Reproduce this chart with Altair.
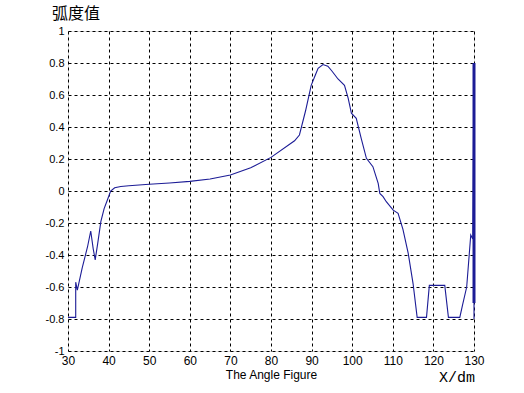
import altair as alt
import pandas as pd

xs = [30, 31.9, 31.9, 32.3, 33.5, 34.8, 35.6, 36.2, 36.7, 37.3, 38.1, 38.9, 39.7, 40.5,
      41.5, 43, 45, 50, 55, 60, 65, 70, 75, 80, 85.8, 87, 88.5, 89.9, 91, 91.6, 92.8,
      94, 95, 96.5, 98.1, 99.0, 99.8, 101.0, 102.2, 103.5, 105.1, 106.4, 106.8, 107.6,
      108.4, 110.1, 111.3, 112.5, 113.8, 115.0, 116.0, 118.3, 119.0, 122.8, 123.7,
      126.5, 127.2, 128.2, 129.2, 129.7, 130, 130]
ys = [-0.79, -0.79, -0.57, -0.62, -0.48, -0.35, -0.25, -0.36, -0.43, -0.33, -0.19, -0.11,
      -0.056, 0.0, 0.02, 0.028, 0.033, 0.042, 0.05, 0.06, 0.075, 0.1, 0.145, 0.21, 0.314,
      0.35, 0.5, 0.66, 0.73, 0.767, 0.79, 0.78, 0.75, 0.70, 0.66, 0.58, 0.486, 0.454,
      0.33, 0.204, 0.152, 0.048, -0.015, -0.035, -0.067, -0.12, -0.14, -0.24, -0.39,
      -0.58, -0.79, -0.79, -0.59, -0.59, -0.79, -0.79, -0.71, -0.6, -0.275, -0.3, 0.8, -0.8]

edge_x = [130, 130]
edge_y = [0.8, -0.7]

y_ticks = [-1, -0.8, -0.6, -0.4, -0.2, 0, 0.2, 0.4, 0.6, 0.8, 1]
x_ticks = [30, 40, 50, 60, 70, 80, 90, 100, 110, 120, 130]

df = pd.DataFrame({"x": xs, "y": ys, "i": list(range(len(xs)))})
edf = pd.DataFrame({"x": edge_x, "y": edge_y, "i": [0, 1]})

X = alt.X("x:Q", scale=alt.Scale(domain=[30, 130], nice=False),
          axis=alt.Axis(values=x_ticks, title="The Angle Figure", titleFont="Liberation Sans",
                        titleFontSize=12, titleFontWeight="normal", titleColor="black",
                        titlePadding=3, labelFont="Liberation Sans", labelFontSize=12,
                        labelColor="black", labelPadding=4, ticks=False, domain=False,
                        gridColor="black", gridDash=[3, 3], gridOpacity=1, gridWidth=1,
                        labelFlush=False, labelOverlap=False))
Y = alt.Y("y:Q", scale=alt.Scale(domain=[-1, 1], nice=False),
          axis=alt.Axis(values=y_ticks, title=None,
                        labelExpr="replace(format(datum.value, '.1~f'), '\u2212', '-')",
                        labelFont="Liberation Sans", labelFontSize=11, labelColor="black",
                        labelPadding=4, ticks=False, domain=False,
                        gridColor="black", gridDash=[3, 3], gridOpacity=1, gridWidth=1,
                        labelFlush=False, labelOverlap=False))

line = alt.Chart(df).mark_line(color="#1c1c96", strokeWidth=1.1, clip=False).encode(
    x=X, y=Y, order="i:Q")

edge = alt.Chart(edf).mark_line(color="#1c1c96", strokeWidth=3).encode(
    x=X, y=Y, order="i:Q")

xdm = alt.Chart(pd.DataFrame({"t": ["X/dm"]})).mark_text(
    font="Liberation Mono", fontSize=15, color="black", align="center", baseline="middle"
).encode(x=alt.value(389), y=alt.value(346), text="t:N")

ylab = alt.Chart(pd.DataFrame({"t": ["弧度值"]})).mark_text(
    font="Noto Sans CJK SC", fontSize=16, fontWeight="normal", color="black",
    align="left", baseline="middle"
).encode(x=alt.value(-16), y=alt.value(-17), text="t:N")

chart = alt.layer(line, edge, xdm, ylab).properties(
    width=406, height=320,
    autosize=alt.AutoSizeParams(type="none"),
    padding={"left": 68, "top": 31, "right": 50, "bottom": 42},
).configure_view(stroke="black", strokeWidth=1).configure_axis(
    labelOverlap=False).configure(background="white")

chart.save("out.html", embed_options={"renderer": "svg", "actions": False})
